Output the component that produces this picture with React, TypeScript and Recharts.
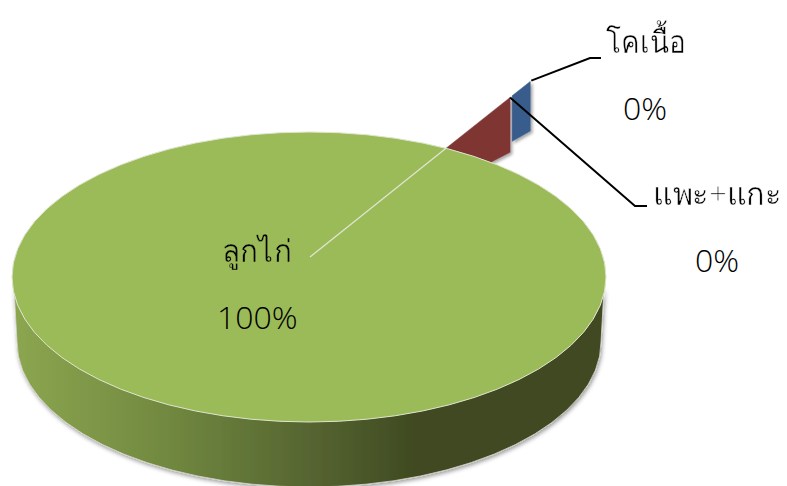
import { Cell, Pie, PieChart } from "recharts";

const CATEGORIES = ["แพะ+แกะ", "โคเนื้อ", "ลูกไก่"];
// printed labels, as they read on the picture
const PERCENT_LABELS = ["0%", "0%", "100%"];
// share of the circle each slice visibly takes up
const SLICE_SIZES = [3.2, 2.5, 94.3];
const SLICE_COLORS = ["#7f3533", "#375c8b", "#9bbb59"];

const WIDTH = 787;
const HEIGHT = 486;
const CX = 309;
const CY = 277;
const RADIUS = 297;
const START_ANGLE = 58.4;
const FONT = '"Open Sans", sans-serif';

// pie is tilted: vertical radius is squashed
const TILT = 145 / 297;
// wedge edges meet above the ellipse centre, as in the picture
const APEX_LIFT = 20;
// side wall: a slightly narrower ellipse lower down
const WALL_DROP = 65;
const WALL_INSET = 5;

// horizontal reach of the pulled-out slices, as a share of the radius
const SLICE_BANDS = [
  { from: 0, to: 0.677 },
  { from: 0.684, to: 0.745 },
];

const LABEL_SPOTS = [
  { name: [653, 205], nameWidth: 129, halo: "#fff", pct: [695, 272], line: [[635, 206], [647, 206]] },
  { name: [606, 53], nameWidth: 80, halo: "#fff", pct: [623, 120], line: [[590, 58], [601, 58]] },
  { name: [222, 262], nameWidth: 70, halo: "#9bbb59", pct: [217, 329], line: [] },
];

function rayPoint(cx: number, cy: number, reach: number, angle: number) {
  const dx = reach;
  const dy = dx * Math.tan((angle * Math.PI) / 180) * TILT;
  return [cx + dx, cy - APEX_LIFT - dy];
}

function SliceShape(props: any) {
  const { cx, cy, outerRadius, startAngle, endAngle, fill, index } = props;
  const rx = outerRadius;
  const ry = outerRadius * TILT;

  if (index < SLICE_BANDS.length) {
    const band = SLICE_BANDS[index];
    const span = startAngle - endAngle;
    const top = START_ANGLE;
    const low = START_ANGLE - span;
    const pts = [
      rayPoint(cx, cy, band.from * rx, top),
      rayPoint(cx, cy, band.to * rx, top),
      rayPoint(cx, cy, band.to * rx, low),
      rayPoint(cx, cy, band.from * rx, low),
    ];
    return (
      <g>
        <defs>
          <filter id={`wedge-shadow-${index}`} x="-30%" y="-30%" width="160%" height="160%">
            <feDropShadow dx="2" dy="2" stdDeviation="1.5" floodColor="#000" floodOpacity="0.35" />
          </filter>
        </defs>
        <polygon
          points={pts.map((p) => p.join(",")).join(" ")}
          fill={fill}
          stroke={fill}
          strokeOpacity={0.5}
          strokeWidth={1}
          filter={`url(#wedge-shadow-${index})`}
        />
      </g>
    );
  }

  const wallRx = rx - WALL_INSET;
  const wallCy = cy + WALL_DROP;
  const wall =
    `M ${cx - rx + 2} ${cy + 12} L ${cx - wallRx} ${wallCy} ` +
    `A ${wallRx} ${ry} 0 0 0 ${cx + wallRx} ${wallCy} ` +
    `L ${cx + rx - 2} ${cy + 12} ` +
    `A ${rx} ${ry} 0 0 1 ${cx - rx + 2} ${cy + 12} Z`;
  const lineEnd = rayPoint(cx, cy, 137, START_ANGLE);

  return (
    <g>
      <defs>
        <linearGradient id="wall-fill" gradientUnits="userSpaceOnUse" x1={cx - rx} y1="0" x2={cx + rx} y2="0">
          <stop offset="0" stopColor="#8ca650" />
          <stop offset="0.25" stopColor="#728a40" />
          <stop offset="0.5" stopColor="#566531" />
          <stop offset="0.68" stopColor="#3f4a21" />
          <stop offset="1" stopColor="#3f4a21" />
        </linearGradient>
        <filter id="wall-shadow" x="-5%" y="-5%" width="110%" height="115%">
          <feDropShadow dx="1" dy="2" stdDeviation="2" floodColor="#000" floodOpacity="0.4" />
        </filter>
      </defs>
      <path d={wall} fill="url(#wall-fill)" stroke="#d9d9d2" strokeWidth={0.8} filter="url(#wall-shadow)" />
      <ellipse cx={cx} cy={cy} rx={rx} ry={ry} fill={fill} stroke="#dfe5cf" strokeWidth={1} />
      <line
        x1={cx + 1}
        y1={cy - APEX_LIFT}
        x2={lineEnd[0]}
        y2={lineEnd[1]}
        stroke="#dfe5cf"
        strokeWidth={1.3}
      />
    </g>
  );
}

function SliceLabel(props: any) {
  const { index, cx, cy } = props;
  const spot = LABEL_SPOTS[index];
  const band = SLICE_BANDS[index];
  const from = band ? rayPoint(cx, cy, band.to * RADIUS + (index === 0 ? 0 : 1), START_ANGLE) : null;
  return (
    <g>
      {from && (
        <polyline
          points={[from, ...spot.line].map((p) => p.join(",")).join(" ")}
          fill="none"
          stroke="#000"
          strokeWidth={2}
        />
      )}
      {/* the Thai fallback font is heavy, a background-coloured stroke thins it */}
      <g opacity={0.99}>
        <text
          x={spot.name[0]}
          y={spot.name[1]}
          fontFamily={FONT}
          fontSize={31}
          fontWeight={300}
          fill="#000"
          stroke={spot.halo}
          strokeWidth={0.45}
          textLength={spot.nameWidth}
          lengthAdjust="spacingAndGlyphs"
        >
          {CATEGORIES[index]}
        </text>
      </g>
      <text x={spot.pct[0]} y={spot.pct[1]} fontFamily={FONT} fontSize={32} fontWeight={300} fill="#000">
        {PERCENT_LABELS[index]}
      </text>
    </g>
  );
}

const chartData = CATEGORIES.map((name, i) => ({ name, value: SLICE_SIZES[i] }));

export default function App() {
  return (
    <div style={{ position: "absolute", left: 0, top: 0, width: WIDTH, height: HEIGHT, background: "#fff" }}>
      <PieChart width={WIDTH} height={HEIGHT} margin={{ top: 0, right: 0, bottom: 0, left: 0 }}>
        <Pie
          data={chartData}
          dataKey="value"
          nameKey="name"
          cx={CX}
          cy={CY}
          outerRadius={RADIUS}
          startAngle={START_ANGLE}
          endAngle={START_ANGLE - 360}
          paddingAngle={0}
          stroke="none"
          shape={SliceShape}
          label={SliceLabel}
          labelLine={false}
          isAnimationActive={false}
        >
          {SLICE_COLORS.map((c, i) => (
            <Cell key={i} fill={c} />
          ))}
        </Pie>
      </PieChart>
    </div>
  );
}
